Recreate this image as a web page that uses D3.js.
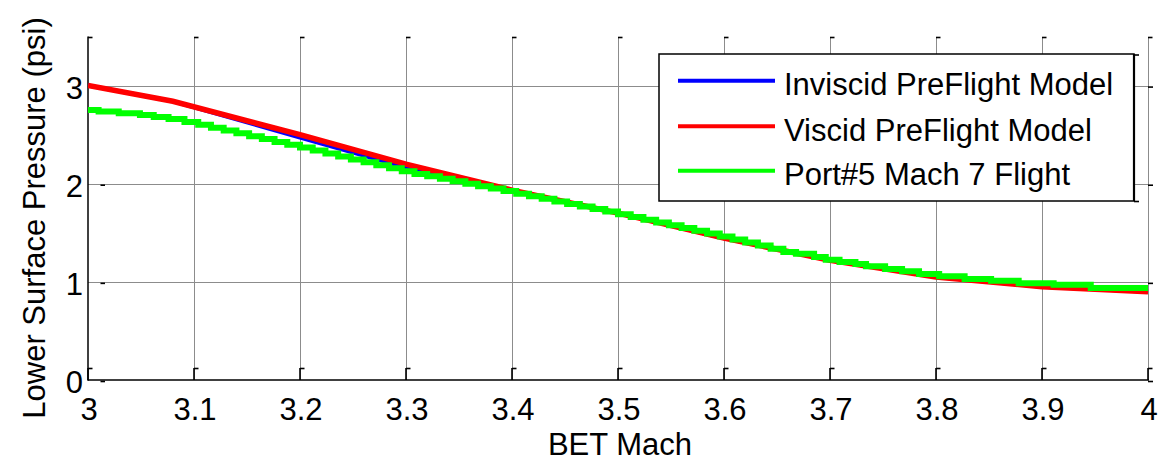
<!DOCTYPE html>
<html>
<head>
<meta charset="utf-8">
<script src="https://cdn.jsdelivr.net/npm/d3@7"></script>
<style>
  html, body { margin: 0; padding: 0; background: #fff; }
  svg { display: block; font-family: "Liberation Sans", Arial, sans-serif; }
</style>
</head>
<body>
<svg id="chart" width="1168" height="464"></svg>
<script>
// Axis ticks
const machTicks = [3, 3.1, 3.2, 3.3, 3.4, 3.5, 3.6, 3.7, 3.8, 3.9, 4];
const machTickLabels = ["3", "3.1", "3.2", "3.3", "3.4", "3.5", "3.6", "3.7", "3.8", "3.9", "4"];
const psiTicks = [0, 1, 2, 3];
const psiTickLabels = ["0", "1", "2", "3"];

// Series names
const seriesNames = ["Inviscid PreFlight Model", "Viscid PreFlight Model", "Port#5 Mach 7 Flight"];

// Inviscid pre-flight model
const inviscidMach = [3.00, 3.08, 3.20, 3.30, 3.35, 3.40, 3.50, 3.60, 3.70, 3.80, 3.90, 4.00];
const inviscidPsi  = [3.00, 2.84, 2.47, 2.165, 2.04, 1.935, 1.70, 1.445, 1.22, 1.05, 0.95, 0.90];

// Viscid pre-flight model
const viscidMach = [3.00, 3.08, 3.20, 3.30, 3.40, 3.50, 3.60, 3.70, 3.80, 3.90, 4.00];
const viscidPsi  = [3.00, 2.84, 2.50, 2.20, 1.935, 1.70, 1.445, 1.22, 1.05, 0.95, 0.90];

// Port#5 flight data (quantized, held between samples)
const flightMach = [
  3.000, 3.010, 3.029, 3.049, 3.062, 3.076, 3.091, 3.104, 3.116, 3.128,
  3.140, 3.152, 3.164, 3.176, 3.188, 3.200, 3.212, 3.224, 3.236, 3.248,
  3.260, 3.272, 3.284, 3.296, 3.308, 3.320, 3.332, 3.344, 3.356, 3.368,
  3.380, 3.392, 3.404, 3.416, 3.428, 3.440, 3.452, 3.464, 3.476, 3.488,
  3.500, 3.512, 3.524, 3.536, 3.548, 3.560, 3.572, 3.584, 3.596, 3.608,
  3.620, 3.632, 3.644, 3.656, 3.668, 3.685, 3.696, 3.709, 3.724, 3.734,
  3.752, 3.768, 3.784, 3.803, 3.827, 3.852, 3.878, 3.911, 3.946, 4.000
];
const flightPsi = [
  2.752, 2.735, 2.718, 2.700, 2.680, 2.660, 2.630, 2.600, 2.571, 2.542,
  2.513, 2.484, 2.455, 2.426, 2.397, 2.368, 2.338, 2.308, 2.278, 2.248,
  2.218, 2.188, 2.158, 2.128, 2.100, 2.075, 2.050, 2.025, 2.000, 1.975,
  1.950, 1.925, 1.898, 1.872, 1.846, 1.820, 1.794, 1.768, 1.742, 1.716,
  1.690, 1.662, 1.634, 1.606, 1.578, 1.550, 1.522, 1.494, 1.462, 1.432,
  1.400, 1.370, 1.337, 1.303, 1.286, 1.253, 1.225, 1.202, 1.181, 1.158,
  1.130, 1.107, 1.079, 1.056, 1.028, 1.011, 0.985, 0.971, 0.937, 0.937
];

const svg = d3.select("#chart");
const W = 1168, H = 464;
const plot = { left: 88, right: 1148, top: 36.5, bottom: 380 };

svg.append("rect").attr("width", W).attr("height", H).attr("fill", "#fff");

const x = d3.scaleLinear().domain([3, 4]).range([plot.left, plot.right]);
const y = d3.scaleLinear().domain([0, 3.5]).range([plot.bottom, plot.top]);

const FS = 31;

// Grid
const grid = svg.append("g").attr("stroke", "#8c8c8c").attr("stroke-width", 1).attr("shape-rendering", "crispEdges");
grid.selectAll("line.gx").data(machTicks.slice(1)).join("line")
  .attr("class", "gx")
  .attr("x1", d => Math.round(x(d)) + 0.5).attr("x2", d => Math.round(x(d)) + 0.5)
  .attr("y1", plot.top).attr("y2", plot.bottom);
grid.selectAll("line.gy").data(psiTicks.slice(1)).join("line")
  .attr("class", "gy")
  .attr("x1", plot.left).attr("x2", plot.right)
  .attr("y1", d => Math.round(y(d)) + 0.5).attr("y2", d => Math.round(y(d)) + 0.5);

// Axes lines (left and bottom)
svg.append("line").attr("x1", plot.left).attr("x2", plot.left)
  .attr("y1", plot.top).attr("y2", plot.bottom + 0.75)
  .attr("stroke", "#000").attr("stroke-width", 1.5);
svg.append("line").attr("x1", plot.left).attr("x2", plot.right + 1)
  .attr("y1", plot.bottom).attr("y2", plot.bottom)
  .attr("stroke", "#000").attr("stroke-width", 1.5);

// Tick marks
const ticks = svg.append("g").attr("stroke", "#000").attr("stroke-width", 1.6);
machTicks.forEach(d => {
  const px = x(d);
  // inner tick on bottom axis
  ticks.append("line").attr("x1", px).attr("x2", px).attr("y1", plot.bottom).attr("y2", plot.bottom - 12);
  ticks.append("line").attr("x1", px).attr("x2", px + 4.5).attr("y1", plot.bottom - 11.5).attr("y2", plot.bottom - 11.5);
  // tick on top edge
  ticks.append("line").attr("x1", px).attr("x2", px + 4.5).attr("y1", plot.top + 1).attr("y2", plot.top + 1);
});
psiTicks.forEach(d => {
  const py = y(d) + 1.5;
  ticks.append("line").attr("x1", plot.left + 12.5).attr("x2", plot.left + 17).attr("y1", py).attr("y2", py);
  ticks.append("line").attr("x1", plot.right).attr("x2", plot.right + 5).attr("y1", py).attr("y2", py);
});

// Tick labels
svg.append("g").selectAll("text").data(machTicks).join("text")
  .attr("x", d => x(d) + 1)
  .attr("y", 420)
  .attr("text-anchor", "middle")
  .attr("font-size", FS)
  .attr("fill", "#000")
  .text((d, i) => machTickLabels[i]);
svg.append("g").selectAll("text").data(psiTicks).join("text")
  .attr("x", 83)
  .attr("y", d => y(d) + 13)
  .attr("text-anchor", "end")
  .attr("font-size", FS)
  .attr("fill", "#000")
  .text((d, i) => psiTickLabels[i]);

// Axis titles
svg.append("text")
  .attr("x", 620).attr("y", 455)
  .attr("text-anchor", "middle").attr("font-size", FS).attr("fill", "#000")
  .text("BET Mach");
svg.append("text")
  .attr("transform", "translate(45,218) rotate(-90)")
  .attr("text-anchor", "middle").attr("font-size", FS).attr("fill", "#000")
  .text("Lower Surface Pressure (psi)");

// Clip to plot area
svg.append("clipPath").attr("id", "plotClip").append("rect")
  .attr("x", plot.left).attr("y", plot.top)
  .attr("width", plot.right - plot.left + 1).attr("height", plot.bottom - plot.top);

const lines = svg.append("g").attr("clip-path", "url(#plotClip)");

const lineFn = d3.line().x(d => x(d[0])).y(d => y(d[1]));
const stepFn = d3.line().x(d => x(d[0])).y(d => y(d[1])).curve(d3.curveStepAfter);

const inviscid = inviscidMach.map((m, i) => [m, inviscidPsi[i]]);
const viscid = viscidMach.map((m, i) => [m, viscidPsi[i]]);
const flight = flightMach.map((m, i) => [m, flightPsi[i]]);

lines.append("path").datum(inviscid).attr("d", lineFn)
  .attr("fill", "none").attr("stroke", "#0000ff").attr("stroke-width", 4);
lines.append("path").datum(viscid).attr("d", lineFn)
  .attr("fill", "none").attr("stroke", "#ff0000").attr("stroke-width", 5.5);
lines.append("path").datum(flight).attr("d", stepFn)
  .attr("fill", "none").attr("stroke", "#00ff00").attr("stroke-width", 6);

// Legend
const leg = { x: 659, y: 54, w: 475, h: 147 };
const lg = svg.append("g");
lg.append("rect").attr("x", leg.x).attr("y", leg.y).attr("width", leg.w).attr("height", leg.h)
  .attr("fill", "#fff").attr("stroke", "#000").attr("stroke-width", 1.5);
lg.append("line").attr("x1", leg.x + leg.w).attr("x2", leg.x + leg.w).attr("y1", leg.y).attr("y2", leg.y + leg.h)
  .attr("stroke", "#000").attr("stroke-width", 2.2);
lg.append("line").attr("x1", leg.x + leg.w).attr("x2", leg.x + leg.w + 5).attr("y1", leg.y + 1).attr("y2", leg.y + 1)
  .attr("stroke", "#000").attr("stroke-width", 1.6);
lg.append("line").attr("x1", leg.x + leg.w).attr("x2", leg.x + leg.w + 5).attr("y1", leg.y + leg.h + 0.5).attr("y2", leg.y + leg.h + 0.5)
  .attr("stroke", "#000").attr("stroke-width", 1.6);

const legColors = ["#0000ff", "#ff0000", "#00ff00"];
const legRowY = [80.7, 126.2, 170.7];
seriesNames.forEach((name, i) => {
  lg.append("line").attr("x1", 678).attr("x2", 775)
    .attr("y1", legRowY[i]).attr("y2", legRowY[i])
    .attr("stroke", legColors[i]).attr("stroke-width", 4);
  lg.append("text").attr("x", 784).attr("y", legRowY[i] + 14.5)
    .attr("font-size", FS).attr("fill", "#000").text(name);
});
</script>
</body>
</html>
